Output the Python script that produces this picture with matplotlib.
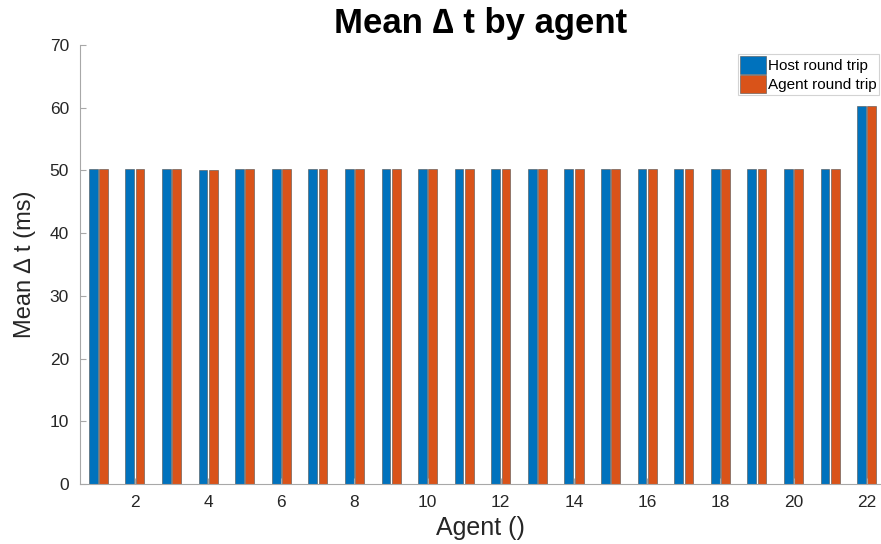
import numpy as np
import matplotlib.pyplot as plt

plt.rcParams['font.family'] = ['Liberation Sans', 'DejaVu Sans']

# mean round trip times per agent (ms)
agents = np.arange(1, 23)
host_rt = [50.2, 50.2, 50.2, 50.05, 50.3, 50.2, 50.2, 50.2, 50.15, 50.2, 50.2,
           50.2, 50.2, 50.15, 50.2, 50.15, 50.2, 50.3, 50.25, 50.15, 50.2, 60.3]
agent_rt = [50.2, 50.2, 50.2, 50.05, 50.3, 50.2, 50.2, 50.2, 50.15, 50.2, 50.2,
            50.2, 50.2, 50.15, 50.2, 50.15, 50.2, 50.3, 50.25, 50.15, 50.2, 60.3]
series_names = ['Host round trip', 'Agent round trip']

fig = plt.figure(figsize=(8.81, 5.44), dpi=100)
ax = fig.add_axes([80 / 881, 60 / 544, 801 / 881, 439 / 544])

w = 0.24
off = 0.14
ax.bar(agents - off, host_rt, width=w, color='#0072BD', edgecolor='#505050',
       linewidth=0.4, label=series_names[0])
ax.bar(agents + off, agent_rt, width=w, color='#D95319', edgecolor='#505050',
       linewidth=0.4, label=series_names[1])

ax.set_xlim(0.5, 22.39)
ax.set_ylim(0, 70)
ax.set_xticks(np.arange(2, 23, 2))
ax.set_yticks(np.arange(0, 71, 10))

for s in ['top', 'right']:
    ax.spines[s].set_visible(False)
for s in ['left', 'bottom']:
    ax.spines[s].set_color('#a8a8a8')
    ax.spines[s].set_linewidth(0.8)
ax.tick_params(direction='in', length=4, width=0.8, color='#a8a8a8',
               labelsize=12.5, labelcolor='#262626', pad=8)

ax.set_title('Mean ∆ t by agent', fontsize=25, fontweight='bold', pad=9)
ax.set_xlabel('Agent ()', fontsize=18, color='#262626', labelpad=4)
ax.set_ylabel('Mean ∆ t (ms)', fontsize=17, color='#262626', labelpad=10)

leg = ax.legend(loc='upper right', bbox_to_anchor=(0.997, 0.98), fontsize=11,
                frameon=True, fancybox=False, handlelength=1.7, handleheight=1.45,
                handletextpad=0.1, borderpad=0.15, labelspacing=0.05,
                borderaxespad=0)
leg.get_frame().set_edgecolor('#c8c8c8')
leg.get_frame().set_linewidth(0.8)

fig.savefig('out.png', dpi=100)
